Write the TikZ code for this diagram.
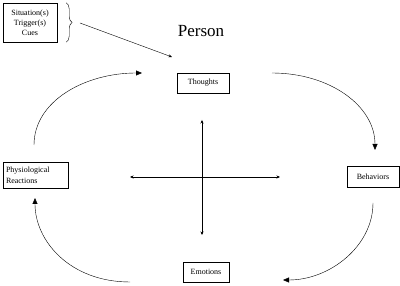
\documentclass[tikz,border=0pt]{standalone}
\usepackage{fontspec}
\setmainfont{Liberation Serif}
\usetikzlibrary{arrows.meta,decorations.pathreplacing}

\begin{document}
\begin{tikzpicture}[x=1pt,y=1pt,
    box/.style={draw,thin,rectangle,inner sep=0pt,font=\fontsize{8}{10}\selectfont,align=center},
    loop/.style={-{Triangle[length=6pt,width=5pt]},thin},
    small/.style={-{Stealth[length=3.5pt,width=3pt]},thin}]
  \useasboundingbox (0,0) rectangle (400,286);
  % boxes, centres in px of the reference
  \node[box,minimum width=54pt,minimum height=39pt] (cues) at (30,263.5) {Situation(s)\\Trigger(s)\\Cues};
  \node[font=\fontsize{17}{20}\selectfont] (person) at (201,255) {Person};
  \node[box,minimum width=52pt,minimum height=20pt] (thoughts) at (203,203) {Thoughts};
  \node[box,minimum width=52pt,minimum height=21pt] (behav) at (373,109.5) {Behaviors};
  \node[box,minimum width=46pt,minimum height=20pt] (emot) at (206,14) {Emotions};
  \node[box,minimum width=65pt,minimum height=26pt,align=left,
    font=\fontsize{8}{11}\selectfont,text width=59pt] (phys) at (35.5,111) {Physiological\\Reactions};

  % brace and trigger arrow
  \draw[thin,decorate,decoration={brace,amplitude=6pt}] ([xshift=9pt]cues.north east) -- ([xshift=9pt]cues.south east);
  \coordinate (tip) at (80,263);
  \coordinate (hit) at (172,229);
  \draw[small] (tip) -- (hit);

  % cross in the middle
  \coordinate (up) at (202,166);
  \coordinate (down) at (202,51);
  \coordinate (left) at (130,109);
  \coordinate (right) at (280,109);
  \draw[{Stealth[length=3.5pt,width=3pt]}-{Stealth[length=3.5pt,width=3pt]},thin] (up) -- (down);
  \draw[{Stealth[length=3.5pt,width=3pt]}-{Stealth[length=3.5pt,width=3pt]},thin] (left) -- (right);

  % the cycle
  \coordinate (a0) at (34,141);   \coordinate (a1) at (142,213);
  \coordinate (b0) at (272,213);  \coordinate (b1) at (375,136);
  \coordinate (c0) at (373,83);   \coordinate (c1) at (283,6);
  \coordinate (d0) at (130,4);    \coordinate (d1) at (35,88);
  \draw[loop] (a0) .. controls (34,185) and (85,213) .. (a1);
  \draw[loop] (b0) .. controls (330,213) and (375,180) .. (b1);
  \draw[loop] (c0) .. controls (373,40) and (330,6) .. (c1);
  \draw[loop] (d0) .. controls (70,4) and (35,45) .. (d1);
\end{tikzpicture}
\end{document}
